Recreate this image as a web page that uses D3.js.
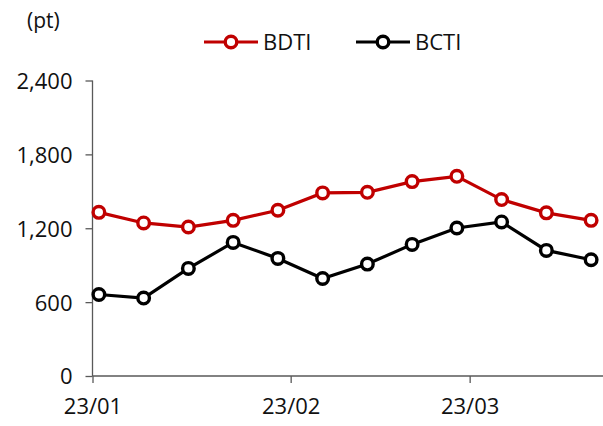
<!DOCTYPE html>
<html>
<head>
<meta charset="utf-8">
<script src="https://cdn.jsdelivr.net/npm/d3@7"></script>
<style>
  body { margin: 0; background: #fff; }
  svg { display: block; font-family: "Open Sans", "Noto Sans", sans-serif; }
</style>
</head>
<body>
<svg id="chart"></svg>
<script>
// weekly points
const dates = ["2023-01-02", "2023-01-09", "2023-01-16", "2023-01-23", "2023-01-30", "2023-02-06",
               "2023-02-13", "2023-02-20", "2023-02-27", "2023-03-06", "2023-03-13", "2023-03-20"];
const bdti = [1329, 1243, 1210, 1264, 1346, 1487, 1492, 1579, 1622, 1433, 1325, 1264];
const bcti = [662, 633, 874, 1085, 955, 792, 909, 1069, 1202, 1251, 1020, 944];
const yTicks = [0, 600, 1200, 1800, 2400];
const xTicks = ["2023-01-01", "2023-02-01", "2023-03-01"];
const seriesNames = ["BDTI", "BCTI"];
const colors = ["#c00000", "#000000"];

const w = 603, h = 426;
const svg = d3.select('#chart').attr('width', w).attr('height', h);

const parse = d3.timeParse('%Y-%m-%d');

const x = d3.scaleTime()
  .domain([parse("2023-01-01"), parse("2023-03-21")])
  .range([92.5, 597.5]);
const y = d3.scaleLinear()
  .domain([0, 2400])
  .range([376, 80.5]);

// axes
const yAxis = d3.axisLeft(y).tickValues(yTicks).tickSize(7).tickFormat(d3.format(','));
const xAxis = d3.axisBottom(x).tickValues(xTicks.map(parse)).tickSize(7)
  .tickFormat(d3.timeFormat('%y/%m'));

const gy = svg.append('g').attr('transform', `translate(${x.range()[0]},0)`).call(yAxis);
gy.select('.domain').attr('d', `M0,${y(2400)}V${y(0)}`);
gy.selectAll('text').attr('x', -20).attr('dy', '0.36em');

const gx = svg.append('g').attr('transform', `translate(0,${y(0)})`).call(xAxis);
gx.select('.domain').attr('d', `M${x.range()[0]},0H${w}`);
gx.selectAll('text').attr('y', 22).attr('dy', '0.71em');

svg.selectAll('.domain, .tick line').attr('stroke', '#595959').attr('stroke-width', 1.3);
svg.selectAll('.tick text').attr('font-size', 22).attr('fill', '#111')
  .attr('font-family', '"Open Sans", sans-serif');

// lines
const pts = [bdti, bcti];
const line = d3.line().x((d, i) => x(parse(dates[i]))).y(d => y(d));

pts.forEach((vals, k) => {
  svg.append('path')
    .datum(vals)
    .attr('d', line)
    .attr('fill', 'none')
    .attr('stroke', colors[k])
    .attr('stroke-width', 3.2);
  svg.selectAll('.m' + k)
    .data(vals)
    .join('circle')
      .attr('cx', (d, i) => x(parse(dates[i])))
      .attr('cy', d => y(d))
      .attr('r', 5.8)
      .attr('fill', '#fff')
      .attr('stroke', colors[k])
      .attr('stroke-width', 3.4);
});

// unit label
svg.append('text').attr('x', 27).attr('y', 28).text('(pt)')
  .attr('font-size', 21).attr('fill', '#111');

// legend
const legX = [204, 356];
seriesNames.forEach((name, k) => {
  const g = svg.append('g').attr('transform', `translate(${legX[k]},42)`);
  g.append('line').attr('x1', 0).attr('x2', 54).attr('stroke', colors[k]).attr('stroke-width', 3.2);
  g.append('circle').attr('cx', 27).attr('r', 5.8).attr('fill', '#fff')
    .attr('stroke', colors[k]).attr('stroke-width', 3.4);
  g.append('text').attr('x', 59).attr('dy', '0.36em').text(name)
    .attr('font-size', 22).attr('fill', '#111');
});
</script>
</body>
</html>
